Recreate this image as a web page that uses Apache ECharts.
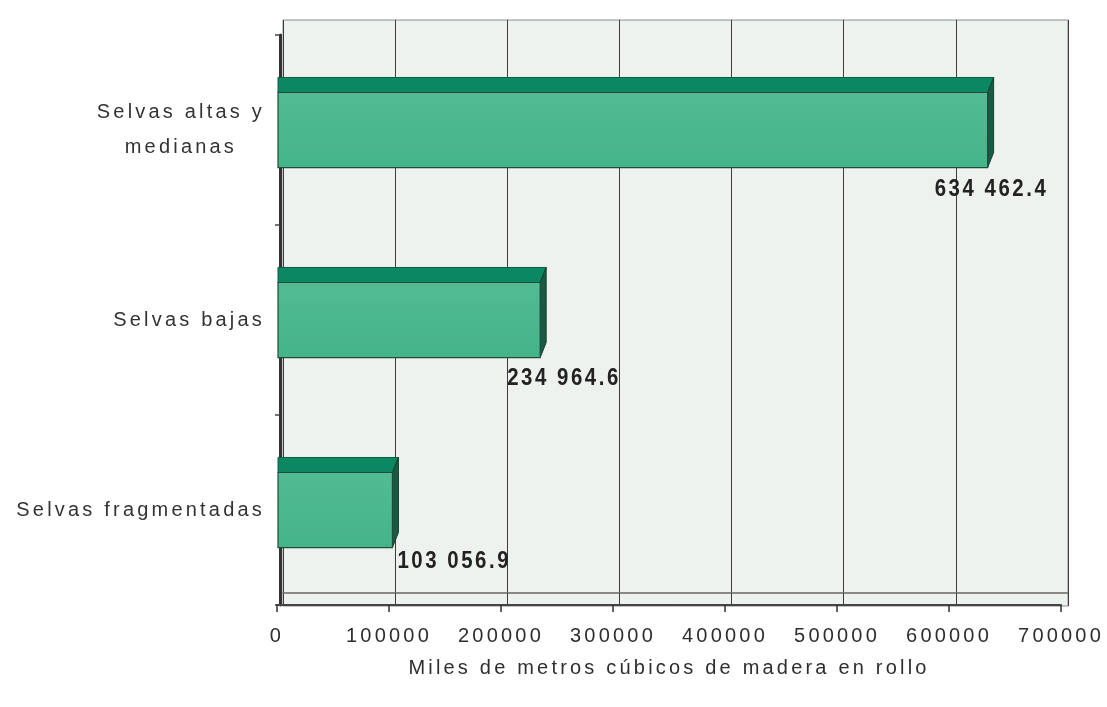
<!DOCTYPE html>
<html>
<head>
<meta charset="utf-8">
<script src="https://cdn.jsdelivr.net/npm/echarts@6/dist/echarts.min.js"></script>
<style>
  html, body { margin: 0; padding: 0; background: #ffffff; }
  #chart { width: 1107px; height: 707px; }
</style>
</head>
<body>
<div id="chart"></div>
<script>
// ---- data ----
const categories = ['Selvas altas y\nmedianas', 'Selvas bajas', 'Selvas fragmentadas'];
const values = [634462.4, 234964.6, 103056.9];
const xTicks = [0, 100000, 200000, 300000, 400000, 500000, 600000, 700000];
const axisTitle = 'Miles de metros cúbicos de madera en rollo';

// ---- label placement (style, not data) ----
const labelDx = [-53, -33, 5];
const labelDy = [22, 21, 14];

// letter spacing to mimic the spaced-out lettering of the original
(function () {
  const proto = CanvasRenderingContext2D.prototype;
  const desc = Object.getOwnPropertyDescriptor(proto, 'font');
  if (!desc || !('letterSpacing' in proto)) return;
  Object.defineProperty(proto, 'font', {
    configurable: true,
    get: function () { return desc.get.call(this); },
    set: function (v) {
      desc.set.call(this, v);
      this.letterSpacing = /bold/.test(v) ? '3px' : '3.2px';
    }
  });
})();

function fmt(v) {
  const parts = v.toFixed(1).split('.');
  return parts[0].replace(/\B(?=(\d{3})+(?!\d))/g, ' ') + '.' + parts[1];
}

const chart = echarts.init(document.getElementById('chart'), null, { renderer: 'canvas' });
const regularFont = "'Liberation Sans', Arial, sans-serif";

const option = {
  backgroundColor: '#ffffff',
  animation: false,
  grid: [
    { // back wall
      left: 283, right: 39, top: 20, bottom: 101,
      show: true, backgroundColor: '#eef2ee', borderColor: '#8a8a8a', borderWidth: 1
    },
    { // front plane
      left: 277, right: 43, top: 35, bottom: 102
    }
  ],
  xAxis: [
    {
      gridIndex: 0, type: 'value', min: xTicks[0], max: xTicks[xTicks.length - 1], interval: xTicks[1] - xTicks[0],
      axisLine: { show: true, onZero: false, lineStyle: { color: '#666', width: 1.5 } },
      offset: -13,
      axisTick: { show: false }, axisLabel: { show: false },
      splitLine: { show: true, lineStyle: { color: '#3c3c3c', width: 1 } }
    },
    {
      gridIndex: 1, type: 'value', min: xTicks[0], max: xTicks[xTicks.length - 1], interval: xTicks[1] - xTicks[0],
      axisLine: { show: true, onZero: false, lineStyle: { color: '#444', width: 2 } },
      axisTick: { show: true, length: 7, lineStyle: { color: '#333', width: 1.5 } },
      axisLabel: {
        show: true, color: '#2e2e2e', fontSize: 20, fontFamily: regularFont, margin: 20,
        formatter: function (v) { return String(v); }
      },
      splitLine: { show: false },
      name: axisTitle, nameLocation: 'middle', nameGap: 52,
      nameTextStyle: { color: '#2e2e2e', fontSize: 20, fontFamily: regularFont }
    }
  ],
  yAxis: [
    {
      gridIndex: 0, type: 'category', data: categories, inverse: true,
      axisLine: { show: false }, axisTick: { show: false }, axisLabel: { show: false }, splitLine: { show: false }
    },
    {
      gridIndex: 1, type: 'category', data: categories, inverse: true, offset: -3,
      axisLine: { show: true, lineStyle: { color: '#333', width: 3 } },
      axisTick: { show: true, length: 5, lineStyle: { color: '#444', width: 1.5 } },
      axisLabel: {
        show: true, margin: 15, color: '#333', fontSize: 20, fontFamily: regularFont,
        lineHeight: 35,
        formatter: function (v) {
          return v.split('\n').map(function (s) { return '{a|' + s + '}'; }).join('\n');
        },
        rich: {
          a: { align: 'center', color: '#333', fontSize: 20, fontFamily: regularFont, lineHeight: 35 }
        }
      },
      splitLine: { show: false }
    }
  ],
  series: [{
    type: 'custom',
    xAxisIndex: 1, yAxisIndex: 1,
    data: values.map(function (v, i) { return [v, i]; }),
    encode: { x: 0, y: 1 },
    renderItem: function (params, api) {
      const i = params.dataIndex;
      const v = api.value(0);
      const c = api.value(1);
      const s = api.coord([0, c]);
      const e = api.coord([v, c]);
      const band = api.size([0, 1])[1];
      const h = band * 0.395;
      const x0 = s[0] + 1, x1 = e[0];
      const yT = e[1] - h / 2, yB = e[1] + h / 2;
      const dx = 6, dy = -15;
      return {
        type: 'group',
        children: [
          {
            type: 'polygon',
            shape: { points: [[x0, yT], [x1, yT], [x1 + dx, yT + dy], [x0, yT + dy]] },
            style: { fill: '#0b8761', stroke: '#0a5e44', lineWidth: 1 }
          },
          {
            type: 'polygon',
            shape: { points: [[x1, yT], [x1 + dx, yT + dy], [x1 + dx, yB + dy], [x1, yB]] },
            style: { fill: '#1a5a43', stroke: '#163f30', lineWidth: 1 }
          },
          {
            type: 'rect',
            shape: { x: x0, y: yT, width: x1 - x0, height: h },
            style: {
              fill: new echarts.graphic.LinearGradient(0, 0, 0, 1, [
                { offset: 0, color: '#52bb94' },
                { offset: 1, color: '#45b489' }
              ]),
              stroke: '#1f4d3a', lineWidth: 1.2
            }
          },
          {
            type: 'text',
            x: x1 + labelDx[i], y: yB + labelDy[i],
            scaleX: 0.85, scaleY: 1,
            style: {
              text: fmt(v),
              x: 0, y: 0,
              fill: '#222',
              fontSize: 24, fontWeight: 'bold',
              fontFamily: regularFont,
              align: 'left', verticalAlign: 'middle'
            }
          }
        ]
      };
    }
  }]
};

chart.setOption(option);
</script>
</body>
</html>
